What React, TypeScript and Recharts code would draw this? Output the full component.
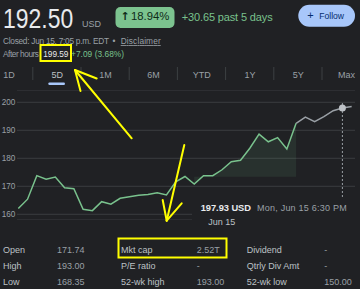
import React from "react";
import {
  ComposedChart,
  Line,
  Area,
  XAxis,
  YAxis,
  CartesianGrid,
  ReferenceLine,
  ReferenceDot,
} from "recharts";

// Regular-session prices (5D), index 0..30
const regularPrices: number[] = [
  162.1, 165.4, 173.8, 172.5, 173.3, 169.5, 169.1, 161.8, 161.3, 164.5,
  163.6, 165.7, 166.3, 166.8, 167.1, 167.7, 166.9, 171.6, 173.5, 170.8,
  173.8, 173.8, 175.9, 178.8, 179.3, 183.6, 188.6, 185.9, 187.4, 183.3,
  192.5,
];
// After-hours prices, index 30..36
const afterHoursPrices: number[] = [192.5, 194.7, 193.1, 194.9, 197.0, 197.93, 198.5];
const afterHoursStart = 30;
const shadeStart = 19;
const shadeEnd = 30;
const prevCloseBase = 173.4;
const yTicks: number[] = [160, 170, 180, 190, 200];
const hoverIndex = 35;
const hoverPrice = 197.93;

const tabs: string[] = ["1D", "5D", "1M", "6M", "YTD", "1Y", "5Y", "Max"];
const tableRows: string[][] = [
  ["Open", "171.74", "Mkt cap", "2.52T", "Dividend", "-"],
  ["High", "193.00", "P/E ratio", "-", "Qtrly Div Amt", "-"],
  ["Low", "168.35", "52-wk high", "193.00", "52-wk low", "150.00"],
];

const total = afterHoursStart + afterHoursPrices.length;
const data = Array.from({ length: total }, (_, i) => {
  const reg = i < regularPrices.length ? regularPrices[i] : null;
  const ah = i >= afterHoursStart ? afterHoursPrices[i - afterHoursStart] : null;
  const shade =
    i >= shadeStart && i <= shadeEnd && reg !== null ? [prevCloseBase, reg] : null;
  return { i, reg, ah, shade };
});

const BG = "#202124";
const GREEN = "#79c28d";
const GREY = "#9aa0a6";
const FONT = "Arial, 'Liberation Sans', sans-serif";

const YTick = (props: any) => {
  const { y, payload } = props;
  return (
    <text x={1.7} y={y + 3} fontSize={8.2} fill={GREY} fontFamily={FONT} textAnchor="start">
      {payload.value}
    </text>
  );
};

export default function App() {
  const tabCenters = tabs.map((_, k) => 9 + k * 48.2);
  const colX = [3, 57, 121, 196.7, 246.7, 324.3];
  const rowY = [253.3, 268.7, 285];
  return (
    <div
      style={{
        position: "absolute",
        left: 0,
        top: 0,
        width: 360,
        height: 289,
        background: BG,
        overflow: "hidden",
        fontFamily: FONT,
      }}
    >
      <div style={{ position: "absolute", left: 0, top: 90 }}>
        <ComposedChart
          width={360}
          height={130}
          data={data}
          margin={{ top: 0, right: 5, bottom: 0, left: 0 }}
        >
          <CartesianGrid horizontal vertical={false} stroke="#3a3d40" strokeWidth={1} />
          <XAxis
            type="number"
            dataKey="i"
            domain={[-0.14, 36.36]}
            allowDataOverflow
            hide
          />
          <YAxis
            width={17}
            domain={[157.96, 204.39]}
            ticks={yTicks}
            interval={0}
            allowDataOverflow
            axisLine={false}
            tickLine={false}
            tick={<YTick />}
          />
          <Area
            dataKey="shade"
            stroke="none"
            fill={GREEN}
            fillOpacity={0.1}
            isAnimationActive={false}
            connectNulls={false}
          />
          <Line
            dataKey="reg"
            stroke={GREEN}
            strokeWidth={1.5}
            dot={false}
            isAnimationActive={false}
          />
          <Line
            dataKey="ah"
            stroke={GREY}
            strokeWidth={1.5}
            dot={false}
            isAnimationActive={false}
          />
          <ReferenceLine
            segment={[
              { x: hoverIndex, y: 199.75 },
              { x: hoverIndex, y: 165.8 },
            ]}
            stroke={GREY}
            strokeDasharray="2 2"
            strokeWidth={1}
          />
          <ReferenceDot
            x={hoverIndex}
            y={hoverPrice}
            r={3.5}
            fill="#bdc1c6"
            stroke="none"
          />
        </ComposedChart>
      </div>

      <svg
        width={360}
        height={289}
        style={{ position: "absolute", left: 0, top: 0, pointerEvents: "none" }}
        fontFamily={FONT}
      >
        {/* header */}
        <g transform="translate(3,27.5) scale(0.85,1)">
          <text x={0} y={0} fontSize={27} fill="#e8eaed">192.50</text>
        </g>
        <text x={82} y={27.3} fontSize={9} fill={GREY}>USD</text>
        <rect x={115.5} y={7} width={59} height={21} rx={5} fill="#7cc38f" />
        <text x={120.5} y={19.5} fontSize={11} fill="#0f2a18" fontFamily="'DejaVu Sans', sans-serif" fontWeight="bold">↑</text>
        <text x={131} y={19.5} fontSize={11.3} fill="#0f2a18" textLength={38.3}>18.94%</text>
        <text x={181.7} y={20.7} fontSize={11} fill={GREEN} textLength={91}>+30.65 past 5 days</text>
        <rect x={298.3} y={4.7} width={56.7} height={22} rx={11} fill="#a8c7fa" />
        <text x={307.3} y={19} fontSize={11} fill="#062e6f">+</text>
        <text x={319.3} y={18.5} fontSize={8.6} fill="#062e6f" textLength={24.7}>Follow</text>

        <text x={3} y={44} fontSize={8.3} fill={GREY} textLength={106}>Closed: Jun 15, 7:05 p.m. EDT</text>
        <text x={112.5} y={44} fontSize={8.3} fill={GREY}>•</text>
        <text x={120.7} y={44} fontSize={8.3} fill={GREY} textDecoration="underline" textLength={40}>Disclaimer</text>
        <text x={3} y={57} fontSize={8.3} fill={GREY} textLength={36}>After hours</text>
        <text x={43.3} y={57} fontSize={8.3} fill="#e8eaed" textLength={25}>199.59</text>
        <text x={71} y={57} fontSize={8.3} fill={GREEN} textLength={53}>+7.09 (3.68%)</text>

        {/* tabs */}
        {tabs.map((t, k) => (
          <text
            key={t}
            x={tabCenters[k]}
            y={77.7}
            fontSize={9}
            fill={k === 1 ? "#bdc1c6" : GREY}
            textAnchor="middle"
          >
            {t}
          </text>
        ))}
        {tabs.slice(0, -1).map((t, k) => (
          <line
            key={"sep" + t}
            x1={32.8 + k * 48.2}
            x2={32.8 + k * 48.2}
            y1={67}
            y2={80}
            stroke="#3c4043"
            strokeWidth={1}
          />
        ))}
        <rect x={48.3} y={82.5} width={16.7} height={2.5} rx={1.2} fill="#a8c7fa" />

        {/* hover tooltip */}
        <rect x={192} y={199} width={168} height={31} fill={BG} />
        <text x={200.7} y={210.7} fontSize={9.3} fill="#e8eaed" fontWeight="bold" textLength={50.3}>197.93 USD</text>
        <text x={257} y={210.7} fontSize={9} fill={GREY} textLength={89.7}>Mon, Jun 15 6:30 PM</text>
        <text x={208.3} y={225} fontSize={9} fill="#bdc1c6">Jun 15</text>

        {/* stats table */}
        {tableRows.map((row, r) =>
          row.map((cell, c) => (
            <text
              key={r + "-" + c}
              x={colX[c]}
              y={rowY[r]}
              fontSize={9}
              fill={c % 2 === 0 ? "#bdc1c6" : GREY}
            >
              {cell}
            </text>
          ))
        )}

        {/* yellow annotations */}
        <g stroke="#ffff00" strokeWidth={2} fill="none" strokeLinecap="round">
          <rect x={40.5} y={45} width={30.5} height={16} />
          <rect x={118.5} y={238.5} width={108} height={19} />
          <line x1={131.7} y1={138.3} x2={75} y2={70} />
          <line x1={75} y1={70} x2={96.7} y2={78.5} />
          <line x1={75} y1={70} x2={80.5} y2={91} />
          <line x1={184.3} y1={145} x2={166.7} y2={220.7} />
          <line x1={166.7} y1={220.7} x2={162.7} y2={200} />
          <line x1={166.7} y1={220.7} x2={181.7} y2={203.3} />
        </g>
      </svg>
    </div>
  );
}
